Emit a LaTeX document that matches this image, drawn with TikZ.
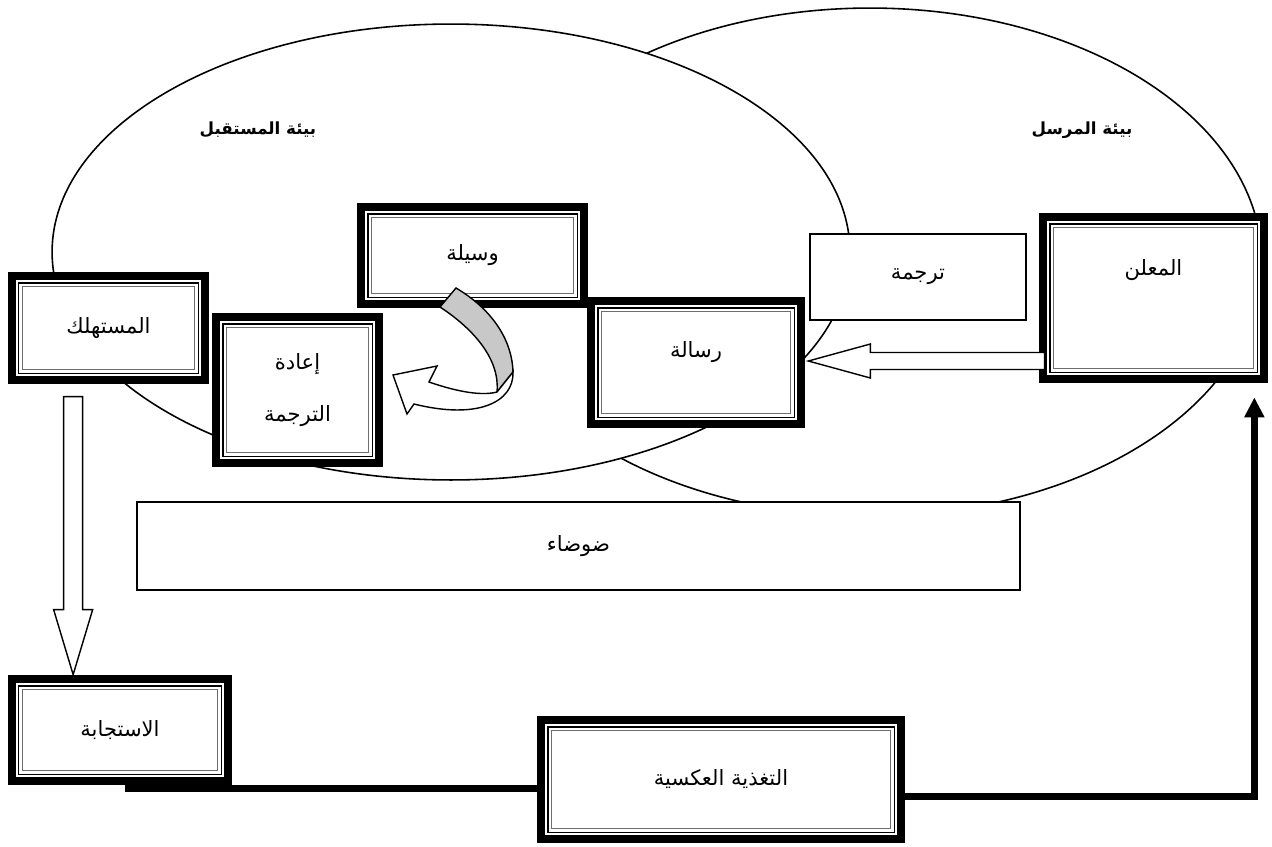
\documentclass[tikz,border=0pt]{standalone}
\usepackage{fontspec}
\usepackage{xcolor}
\newfontfamily\arabicfont[Script=Arabic]{DejaVu Sans}
\TeXXeTstate=1
\usetikzlibrary{arrows.meta,calc}
\definecolor{ribbongray}{HTML}{C8C8C8}
\definecolor{innerline}{HTML}{6E6E6E}
\newcommand{\ar}[1]{\beginR #1\endR}
\tikzset{
  env/.style={draw=black, line width=0.9pt, fill=white},
  envlbl/.style={font=\arabicfont\bfseries\fontsize{9.5}{12}\selectfont, inner sep=1pt},
  tbox/.style 2 args={draw=black, line width=0.85pt, fill=white, inner sep=0pt,
    minimum width=#1*0.02cm, minimum height=#2*0.02cm,
    font=\arabicfont\fontsize{12}{14}\selectfont},
  dbox/.style 2 args={fill=white, inner sep=0pt, align=center,
    minimum width=#1*0.02cm, minimum height=#2*0.02cm,
    font=\arabicfont\fontsize{12}{14}\selectfont,
    path picture={
      \draw[line width=0.16cm] ([shift={(4,4)}]path picture bounding box.north west)
          rectangle ([shift={(-4,-4)}]path picture bounding box.south east);
      \draw[line width=0.03cm] ([shift={(10.75,10.75)}]path picture bounding box.north west)
          rectangle ([shift={(-10.75,-10.75)}]path picture bounding box.south east);
      \draw[line width=0.02cm, innerline] ([shift={(14.5,14.5)}]path picture bounding box.north west)
          rectangle ([shift={(-14.5,-14.5)}]path picture bounding box.south east);
    }},
  hollow/.style={draw=black, line width=0.8pt, fill=white, line join=miter},
  feed/.style={draw=black, line width=0.13cm},
}

\begin{document}
\begin{tikzpicture}[x=0.02cm, y=-0.02cm]
  \useasboundingbox (0,0) rectangle (1272,846);

  % sender and receiver environments
  \draw[env] (870,262) ellipse [x radius=7.84cm, y radius=5.08cm];
  \draw[env] (451,252) ellipse [x radius=7.98cm, y radius=4.56cm];
  \node[envlbl] (rxenv) at (258,130) {\ar{بيئة المستقبل}};
  \node[envlbl] (txenv) at (1082,130) {\ar{بيئة المرسل}};

  % boxes
  \node[tbox={883}{88}] (noise) at (578.5,546) {\ar{ضوضاء}};
  \node[tbox={216}{86}] (transl) at (918,277) {\ar{ترجمة}};
  \node[dbox={229}{170}, text height=0.3cm, text depth=1.2cm] (adv) at (1153.5,298) {\ar{المعلن}};
  \node[dbox={218}{131}, text height=0.3cm, text depth=0.5cm] (msg) at (696,362.5) {\ar{رسالة}};
  \node[dbox={231}{105}] (medium) at (472.5,255.5) {\ar{وسيلة}};
  \node[dbox={171}{154}] (reint) at (297.5,390) {\ar{إعادة}\\[0.55cm]\ar{الترجمة}};
  \node[dbox={201}{112}] (cons) at (108.5,328) {\ar{المستهلك}};
  \node[dbox={224}{110}] (resp) at (120,730) {\ar{الاستجابة}};
  \node[dbox={368}{127}] (fb) at (721,779.5) {\ar{التغذية العكسية}};

  % message leaves the advertiser
  \coordinate (ltip) at ($(msg.east)+(3,-1.5)$);
  \coordinate (lbase) at (adv.west |- ltip);
  \draw[hollow] (ltip) -- ++(62,-17) -- ++(0,8.5) -- ($(lbase)+(6,-8.5)$)
      -- ($(lbase)+(6,8.5)$) -- ($(ltip)+(62,8.5)$) -- ($(ltip)+(62,17)$) -- cycle;

  % consumer to response
  \coordinate (dtip) at ($(resp.north west)+(65.5,0)$);
  \draw[hollow] (dtip) -- ++(-19.5,-65) -- ++(10,0) -- ++(0,-213) -- ++(19,0)
      -- ++(0,213) -- ++(10,0) -- cycle;

  % medium curls back to reinterpretation
  \filldraw[fill=ribbongray, draw=black, line width=0.8pt] (440,307)
      .. controls (475,330) and (500,360) .. (497,392) -- (513,372)
      .. controls (512,338) and (490,308) .. (456,288) -- cycle;
  \filldraw[fill=white, draw=black, line width=0.8pt] (513,372)
      .. controls (514,402) and (478,420) .. (414,404) -- (407,414) -- (393,375)
      -- (437,366) -- (429,382) .. controls (458,392) and (482,396) .. (497,392) -- cycle;

  % feedback loop
  \coordinate (respfoot) at ($(resp.south)+(5,3)$);
  \draw[feed] (respfoot) -- (respfoot -| fb.west);
  \draw[feed, -{Triangle[length=0.4cm, width=0.38cm]}] ($(fb.east)+(0,17)$)
      -| ($(adv.south east)+(-14,14)$);

\end{tikzpicture}
\end{document}
